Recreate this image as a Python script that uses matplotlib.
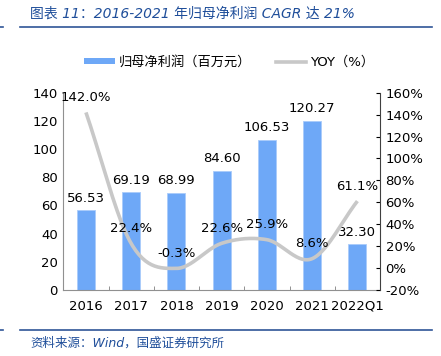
import numpy as np
import matplotlib
matplotlib.use("Agg")
import matplotlib.pyplot as plt
from matplotlib.lines import Line2D
from matplotlib.patches import Patch

plt.rcParams['font.family'] = ['DejaVu Sans', 'Noto Sans CJK SC']

# data
years = ['2016', '2017', '2018', '2019', '2020', '2021', '2022Q1']
profit = [56.53, 69.19, 68.99, 84.60, 106.53, 120.27, 32.30]   # 归母净利润（百万元）
yoy = [142.0, 22.4, -0.3, 22.6, 25.9, 8.6, 61.1]               # YOY（%）

bar_color = '#6EA8F7'
line_color = '#C8C8C8'
blue_text = '#1F4E9A'


def smooth(xs, ys, n=30):
    # Catmull-Rom curve through the points, like Excel's smoothed line
    px = np.concatenate([[2 * xs[0] - xs[1]], xs, [2 * xs[-1] - xs[-2]]])
    py = np.concatenate([[2 * ys[0] - ys[1]], ys, [2 * ys[-1] - ys[-2]]])
    out_x, out_y = [], []
    for i in range(1, len(px) - 2):
        t = np.linspace(0, 1, n)
        for arr, out in ((px, out_x), (py, out_y)):
            p0, p1, p2, p3 = arr[i - 1], arr[i], arr[i + 1], arr[i + 2]
            out.extend(0.5 * (2 * p1 + (-p0 + p2) * t
                              + (2 * p0 - 5 * p1 + 4 * p2 - p3) * t ** 2
                              + (-p0 + 3 * p1 - 3 * p2 + p3) * t ** 3))
    return np.array(out_x), np.array(out_y)


fig = plt.figure(figsize=(4.41, 3.56), dpi=100)
ax = fig.add_axes([0.1436, 0.1854, 0.7181, 0.5542])
ax2 = ax.twinx()

x = np.arange(len(years))
ax.bar(x, profit, width=0.4, color=bar_color, edgecolor='#A9CBFA', linewidth=0.6, zorder=2)
for xi, v in zip(x, profit):
    ax.annotate('%.2f' % v, (xi, v), xytext=(0, 4), textcoords='offset points',
                ha='center', va='bottom', fontsize=9.5, color='black')

sx, sy = smooth(x.astype(float), np.array(yoy, dtype=float))
ax2.plot(sx, sy, color=line_color, linewidth=2.6, solid_capstyle='butt', zorder=3)
for xi, v in zip(x, yoy):
    ax2.annotate('%.1f%%' % v, (xi, v), xytext=(0, 6), textcoords='offset points',
                 ha='center', va='bottom', fontsize=9.5, color='black')

ax.set_xlim(-0.5, len(years) - 0.5)
ax.set_ylim(0, 140)
ax.set_yticks(range(0, 141, 20))
ax2.set_ylim(-20, 160)
ax2.set_yticks(range(-20, 161, 20))
ax2.set_yticklabels(['%d%%' % v for v in range(-20, 161, 20)])

ax.set_xticks(x)
ax.set_xticklabels(years)
ax.set_xticks(np.arange(-0.5, len(years), 1), minor=True)
ax.tick_params(axis='x', which='major', length=0, labelsize=9.5, pad=7)
ax.tick_params(axis='x', which='minor', direction='in', length=3, color='#808080')
ax.tick_params(axis='y', length=0, labelsize=9.5, pad=4)
ax2.tick_params(axis='y', direction='in', length=3, labelsize=9.5, pad=4)

for s in ['top']:
    ax.spines[s].set_visible(False)
    ax2.spines[s].set_visible(False)
ax.spines['left'].set_color('#909090')
ax.spines['bottom'].set_color('#909090')
ax2.spines['left'].set_visible(False)
ax2.spines['bottom'].set_visible(False)
ax.spines['right'].set_visible(False)
ax2.spines['right'].set_color('#404040')

handles = [Patch(facecolor=bar_color, edgecolor='none'),
           Line2D([0], [0], color=line_color, linewidth=2.6)]
fig.legend(handles, ['归母净利润（百万元）', 'YOY（%）'], loc='center',
           bbox_to_anchor=(0.52, 0.826), ncol=2, frameon=False, fontsize=9.5,
           handlelength=2.3, handleheight=0.3, columnspacing=1.9, handletextpad=0.3)

# title, rules and source note
fig.text(0.068, 0.963, '图表 11：2016-2021 年归母净利润 CAGR 达 21%', fontsize=10,
         style='italic', color=blue_text, va='center')
fig.add_artist(Line2D([0.046, 0.98], [0.924, 0.924], color='#2F5597', linewidth=1.2))
fig.add_artist(Line2D([0.0, 0.007], [0.924, 0.924], color='#2F5597', linewidth=1.2))
fig.add_artist(Line2D([0.046, 0.98], [0.073, 0.073], color='#2F5597', linewidth=1.2))
fig.add_artist(Line2D([0.0, 0.007], [0.073, 0.073], color='#2F5597', linewidth=1.2))
fig.text(0.068, 0.036, '资料来源：Wind，国盛证券研究所', fontsize=9,
         style='italic', color=blue_text, va='center')

fig.savefig('out.png', dpi=100)
